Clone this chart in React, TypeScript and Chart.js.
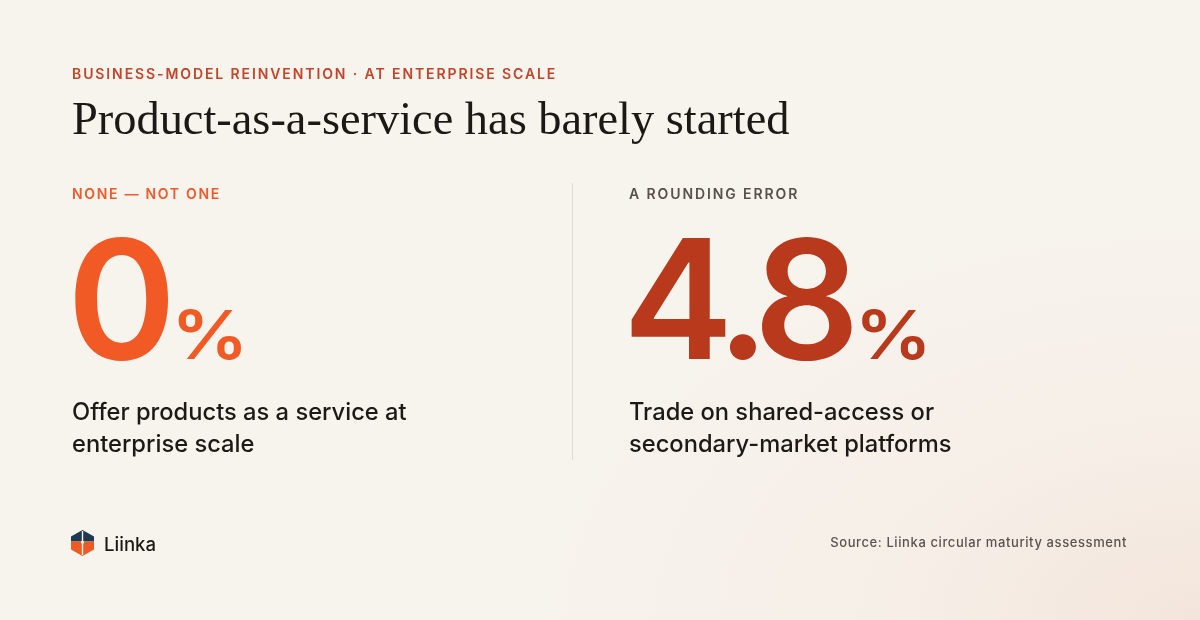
import React, { useEffect, useRef } from "react";
import { Chart, registerables } from "chart.js";

Chart.register(...registerables);

// ---- data ----
const kicker = "BUSINESS-MODEL REINVENTION · AT ENTERPRISE SCALE";
const title = "Product-as-a-service has barely started";
const statLabels = ["NONE — NOT ONE", "A ROUNDING ERROR"];
const statValues = [0, 4.8];
const statDescriptions = [
  ["Offer products as a service at", "enterprise scale"],
  ["Trade on shared-access or", "secondary-market platforms"],
];
const statColors = ["#f15a24", "#b8391b"];
const labelColors = ["#ee5a2b", "#5a504a"];
const sourceText = "Source: Liinka circular maturity assessment";
const brand = "Liinka";

const COL_X = [75, 631];
const NUM_BASELINE = 359;
const NUM_HEIGHT = 121;
const PCT_HEIGHT = 51;
const PCT_WIDTH = 63;

function fitFont(ctx: CanvasRenderingContext2D, weight: number, sample: string, target: number) {
  ctx.font = `${weight} 100px Inter`;
  const m = ctx.measureText(sample);
  const h = m.actualBoundingBoxAscent + m.actualBoundingBoxDescent;
  return (100 * target) / (h || 73);
}

const bigNumberPlugin = {
  id: "bigNumbers",
  afterDraw(chart: any) {
    const ctx = chart.ctx as CanvasRenderingContext2D;
    const values = chart.data.datasets[0].data as number[];
    values.forEach((v, i) => {
      const txt = String(v);
      ctx.save();
      ctx.fillStyle = statColors[i];
      ctx.textBaseline = "alphabetic";
      ctx.textAlign = "left";
      const size = fitFont(ctx, 600, "4", NUM_HEIGHT);
      ctx.font = `600 ${size}px Inter`;
      (ctx as any).letterSpacing = `${-0.068 * size}px`;
      const m = ctx.measureText(txt);
      const x = COL_X[i] + m.actualBoundingBoxLeft;
      ctx.fillText(txt, x, NUM_BASELINE);
      const rightInk = x + m.actualBoundingBoxRight;
      const psize = fitFont(ctx, 600, "%", PCT_HEIGHT);
      ctx.font = `600 ${psize}px Inter`;
      (ctx as any).letterSpacing = "0px";
      const pm = ctx.measureText("%");
      const inkW = pm.actualBoundingBoxLeft + pm.actualBoundingBoxRight;
      const sx = inkW > 0 ? PCT_WIDTH / inkW : 1;
      const left = rightInk + 10;
      ctx.translate(left, NUM_BASELINE);
      ctx.scale(sx, 1);
      ctx.fillText("%", pm.actualBoundingBoxLeft, 0);
      ctx.restore();
    });
  },
};

function StatChart() {
  const ref = useRef<HTMLCanvasElement>(null);
  useEffect(() => {
    if (!ref.current) return;
    const chart = new Chart(ref.current, {
      type: "bar",
      data: {
        labels: statLabels,
        datasets: [
          {
            data: statValues,
            backgroundColor: "rgba(0,0,0,0)",
            borderWidth: 0,
          },
        ],
      },
      options: {
        animation: false,
        responsive: false,
        devicePixelRatio: 1,
        events: [],
        layout: { padding: 0 },
        scales: { x: { display: false }, y: { display: false } },
        plugins: { legend: { display: false }, tooltip: { enabled: false } },
      },
      plugins: [bigNumberPlugin],
    });
    return () => chart.destroy();
  }, []);
  return (
    <canvas
      ref={ref}
      width={1200}
      height={620}
      style={{ position: "absolute", left: 0, top: 0, width: 1200, height: 620 }}
    />
  );
}

const abs = (o: React.CSSProperties): React.CSSProperties => ({
  position: "absolute",
  margin: 0,
  whiteSpace: "nowrap",
  ...o,
});

export default function App() {
  return (
    <div
      style={{
        position: "fixed",
        left: 0,
        top: 0,
        width: 1200,
        height: 620,
        overflow: "hidden",
        background:
          "radial-gradient(ellipse 700px 420px at 1200px 620px, #f3e5dc 0%, rgba(245,236,228,0.6) 45%, rgba(247,243,237,0) 100%), #f7f3ed",
        fontFamily: "Inter, sans-serif",
      }}
    >
      <StatChart />
      <div
        style={abs({
          left: 72,
          top: 67,
          fontSize: 14,
          lineHeight: "14px",
          fontWeight: 600,
          letterSpacing: "1.9px",
          color: "#c0452b",
        })}
      >
        {kicker}
      </div>
      <div
        style={abs({
          left: 72,
          top: 96,
          fontFamily: "'Liberation Serif', serif",
          fontSize: 46.4,
          lineHeight: "46px",
          fontWeight: 400,
          color: "#1c1816",
        })}
      >
        {title}
      </div>
      <div
        style={abs({
          left: 572,
          top: 183,
          width: 1,
          height: 277,
          background: "#e3dbd1",
        })}
      />
      {statLabels.map((l, i) => (
        <div
          key={l}
          style={abs({
            left: [72, 629][i],
            top: 187,
            fontSize: 14,
            lineHeight: "14px",
            fontWeight: 600,
            letterSpacing: ["1.7px", "1.9px"][i],
            color: labelColors[i],
          })}
        >
          {l}
        </div>
      ))}
      {statDescriptions.map((lines, i) => (
        <div
          key={i}
          style={abs({
            left: [72, 629][i],
            top: 396,
            fontSize: 23.7,
            lineHeight: "32px",
            fontWeight: 500,
            color: "#1d1917",
          })}
        >
          {lines.map((t) => (
            <div key={t}>{t}</div>
          ))}
        </div>
      ))}
      <svg
        style={{ position: "absolute", left: 71, top: 530 }}
        width={23}
        height={26}
        viewBox="0 0 23 26"
      >
        <polygon points="0,6.5 11.5,0 23,6.5 23,11.5 0,11.5" fill="#1d3a52" />
        <polygon points="0,11.5 23,11.5 23,19.5 11.5,26 0,19.5" fill="#ee5a24" />
        <rect x={10.8} y={1} width={1.4} height={24} fill="#f7f3ed" />
        <circle cx={11.5} cy={12} r={1.6} fill="#f7f3ed" />
      </svg>
      <div
        style={abs({
          left: 104,
          top: 535,
          fontSize: 18.6,
          lineHeight: "19px",
          fontWeight: 500,
          color: "#1d1917",
        })}
      >
        {brand}
      </div>
      <div
        style={abs({
          right: 73,
          top: 536,
          fontSize: 13,
          lineHeight: "13px",
          fontWeight: 500,
          letterSpacing: "0.6px",
          color: "#5a534d",
        })}
      >
        {sourceText}
      </div>
    </div>
  );
}
